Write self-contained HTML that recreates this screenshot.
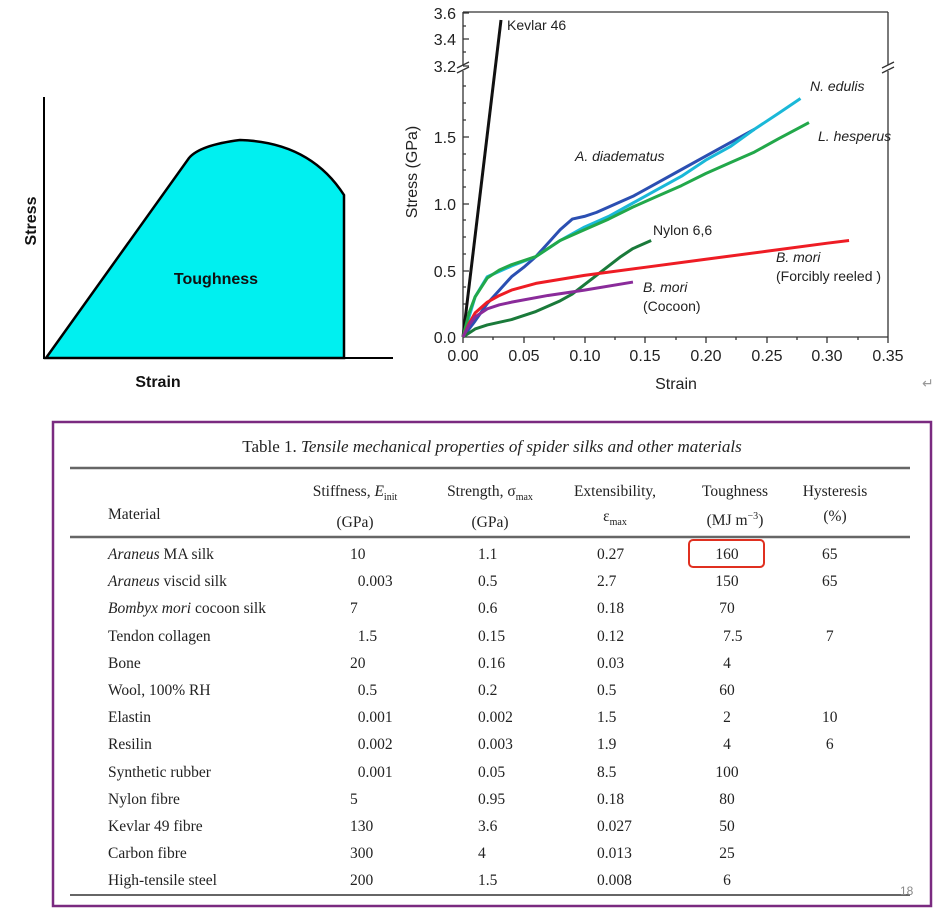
<!DOCTYPE html>
<html><head><meta charset="utf-8"><style>
body{margin:0;background:#fff;width:942px;height:922px;overflow:hidden;position:relative;font-family:"Liberation Sans",sans-serif}
.t{position:absolute;font-family:"Liberation Serif",serif;font-size:15.5px;color:#222;white-space:nowrap}
</style></head><body>
<svg width="942" height="922" style="position:absolute;left:0;top:0" font-family="Liberation Sans, sans-serif">
<path d="M46,358 L189,158 Q200,145 240,140 Q310,142 344,195 L344,358 Z" fill="#00f0f0" stroke="#000" stroke-width="2.5"/>
<line x1="44" y1="97" x2="44" y2="359" stroke="#000" stroke-width="2"/>
<line x1="43" y1="358" x2="393" y2="358" stroke="#000" stroke-width="2"/>
<text x="216" y="284" font-size="16" font-weight="bold" text-anchor="middle" fill="#111">Toughness</text>
<text x="158" y="387" font-size="16" font-weight="bold" text-anchor="middle" fill="#111">Strain</text>
<text transform="translate(36,221) rotate(-90)" font-size="16" font-weight="bold" text-anchor="middle" fill="#111">Stress</text>

<g stroke="#333" stroke-width="1.3" fill="none">
<line x1="463" y1="12" x2="463" y2="65"/><line x1="463" y1="71" x2="463" y2="337"/>
<line x1="888" y1="12" x2="888" y2="65"/><line x1="888" y1="71" x2="888" y2="337"/>
<line x1="463" y1="12" x2="888" y2="12"/>
<line x1="463" y1="337" x2="888" y2="337"/>
<path d="M457,68 L469,62 M457,73 L469,67 M882,68 L894,62 M882,73 L894,67"/>
<path d="M463,13h6 M463,26h3 M463,39h6 M463,52h3 M463,66h6 M463,86h3 M463,103h3 M463,120h3 M463,137h6 M463,154h3 M463,170h3 M463,187h3 M463,204h6 M463,220h3 M463,237h3 M463,254h3 M463,271h6 M463,287h3 M463,304h3 M463,320h3"/>
<path d="M463,337v6 M493,337v3 M524,337v6 M554,337v3 M585,337v6 M615,337v3 M645,337v6 M676,337v3 M706,337v6 M736,337v3 M767,337v6 M797,337v3 M827,337v6 M858,337v3 M888,337v6"/>
</g>
<g font-size="16" fill="#222" text-anchor="end">
<text x="456" y="19">3.6</text><text x="456" y="45">3.4</text><text x="456" y="72">3.2</text>
<text x="456" y="143">1.5</text><text x="456" y="210">1.0</text><text x="456" y="277">0.5</text><text x="456" y="343">0.0</text>
</g>
<g font-size="16" fill="#222" text-anchor="middle">
<text x="463" y="361">0.00</text><text x="524" y="361">0.05</text><text x="585" y="361">0.10</text><text x="645" y="361">0.15</text><text x="706" y="361">0.20</text><text x="767" y="361">0.25</text><text x="827" y="361">0.30</text><text x="888" y="361">0.35</text>
<text x="676" y="389">Strain</text>
<text transform="translate(417,172) rotate(-90)">Stress (GPa)</text>
</g>
<line x1="463" y1="337" x2="501" y2="20" stroke="#111" stroke-width="3"/>
<g transform="translate(463,337) scale(1214,-134)" fill="none" stroke-width="3" stroke-linejoin="round">
<polyline vector-effect="non-scaling-stroke" stroke="#2b4fb2" points="0,0 0.01,0.12 0.02,0.25 0.03,0.35 0.04,0.45 0.05,0.52 0.06,0.6 0.07,0.7 0.08,0.8 0.09,0.88 0.1,0.9 0.11,0.93 0.12,0.97 0.14,1.05 0.16,1.15 0.18,1.25 0.2,1.35 0.22,1.45 0.24,1.55"/>
<polyline vector-effect="non-scaling-stroke" stroke="#1ab8d8" points="0,0 0.01,0.3 0.02,0.45 0.04,0.53 0.06,0.6 0.08,0.72 0.1,0.82 0.12,0.9 0.14,1.0 0.16,1.1 0.18,1.2 0.2,1.32 0.22,1.42 0.24,1.55 0.26,1.67 0.278,1.78"/>
<polyline vector-effect="non-scaling-stroke" stroke="#22a84a" points="0,0 0.005,0.18 0.01,0.3 0.02,0.44 0.03,0.5 0.04,0.54 0.06,0.6 0.08,0.72 0.1,0.8 0.12,0.88 0.14,0.97 0.16,1.05 0.18,1.13 0.2,1.22 0.22,1.3 0.24,1.38 0.26,1.48 0.285,1.6"/>
<polyline vector-effect="non-scaling-stroke" stroke="#1a7a3a" points="0,0 0.01,0.06 0.02,0.09 0.04,0.13 0.06,0.19 0.08,0.27 0.09,0.32 0.1,0.39 0.11,0.46 0.12,0.53 0.13,0.6 0.14,0.66 0.155,0.72"/>
<polyline vector-effect="non-scaling-stroke" stroke="#ee1c24" points="0,0 0.005,0.1 0.01,0.18 0.02,0.26 0.03,0.31 0.04,0.35 0.06,0.4 0.08,0.43 0.1,0.46 0.15,0.52 0.2,0.58 0.25,0.64 0.3,0.7 0.318,0.72"/>
<polyline vector-effect="non-scaling-stroke" stroke="#8a2b9a" points="0,0 0.005,0.09 0.01,0.15 0.02,0.21 0.03,0.24 0.04,0.26 0.07,0.31 0.1,0.35 0.14,0.41"/>
</g>
<g font-size="14" fill="#222">
<text x="507" y="30">Kevlar 46</text>
<text x="575" y="161" font-style="italic">A. diadematus</text>
<text x="810" y="91" font-style="italic">N. edulis</text>
<text x="818" y="141" font-style="italic">L. hesperus</text>
<text x="653" y="235">Nylon 6,6</text>
<text x="776" y="262" font-style="italic">B. mori</text>
<text x="776" y="281">(Forcibly reeled )</text>
<text x="643" y="292" font-style="italic">B. mori</text>
<text x="643" y="311">(Cocoon)</text>
</g>
<text x="922" y="388" font-size="14" fill="#999">↵</text>

<rect x="53" y="422" width="878" height="484" fill="none" stroke="#7a2a80" stroke-width="2.5"/>
<line x1="70" y1="468" x2="910" y2="468" stroke="#666" stroke-width="2.5"/>
<line x1="70" y1="537" x2="910" y2="537" stroke="#666" stroke-width="2.5"/>
<line x1="70" y1="895" x2="910" y2="895" stroke="#666" stroke-width="2"/>
<rect x="689" y="540" width="75" height="27" rx="4" fill="none" stroke="#e03020" stroke-width="2"/>
<text x="900" y="895" font-size="12" fill="#888">18</text>
</svg>
<div class="t" style="left:0;width:984px;text-align:center;top:437px;font-size:17px">Table 1. <i>Tensile mechanical properties of spider silks and other materials</i></div>
<div class="t" style="left:108px;top:506px">Material</div>
<div class="t" style="left:300px;width:110px;text-align:center;top:479px;line-height:25px">Stiffness, <i>E</i><sub style="font-size:10px">init</sub><br>(GPa)</div>
<div class="t" style="left:435px;width:110px;text-align:center;top:479px;line-height:25px">Strength, σ<sub style="font-size:10px">max</sub><br>(GPa)</div>
<div class="t" style="left:560px;width:110px;text-align:center;top:479px;line-height:25px">Extensibility,<br>ε<sub style="font-size:10px">max</sub></div>
<div class="t" style="left:680px;width:110px;text-align:center;top:479px;line-height:25px">Toughness<br>(MJ m<sup style="font-size:10px">−3</sup>)</div>
<div class="t" style="left:780px;width:110px;text-align:center;top:479px;line-height:25px">Hysteresis<br>(%)</div>
<div class="t" style="left:108px;top:541px;line-height:27.2px"><i>Araneus</i> MA silk<br><i>Araneus</i> viscid silk<br><i>Bombyx mori</i> cocoon silk<br>Tendon collagen<br>Bone<br>Wool, 100% RH<br>Elastin<br>Resilin<br>Synthetic rubber<br>Nylon fibre<br>Kevlar 49 fibre<br>Carbon fibre<br>High-tensile steel</div>
<div class="t" style="left:350px;top:541px;line-height:27.2px">10<br>&nbsp;&nbsp;0.003<br>7<br>&nbsp;&nbsp;1.5<br>20<br>&nbsp;&nbsp;0.5<br>&nbsp;&nbsp;0.001<br>&nbsp;&nbsp;0.002<br>&nbsp;&nbsp;0.001<br>5<br>130<br>300<br>200</div>
<div class="t" style="left:478px;top:541px;line-height:27.2px">1.1<br>0.5<br>0.6<br>0.15<br>0.16<br>0.2<br>0.002<br>0.003<br>0.05<br>0.95<br>3.6<br>4<br>1.5</div>
<div class="t" style="left:597px;top:541px;line-height:27.2px">0.27<br>2.7<br>0.18<br>0.12<br>0.03<br>0.5<br>1.5<br>1.9<br>8.5<br>0.18<br>0.027<br>0.013<br>0.008</div>
<div class="t" style="left:690px;width:74px;text-align:center;top:541px;line-height:27.2px">160<br>150<br>70<br>&nbsp;&nbsp;&nbsp;7.5<br>4<br>60<br>2<br>4<br>100<br>80<br>50<br>25<br>6</div>
<div class="t" style="left:822px;top:541px;line-height:27.2px">65<br>65<br><br>&nbsp;7<br><br><br>10<br>&nbsp;6</div>
</body></html>
